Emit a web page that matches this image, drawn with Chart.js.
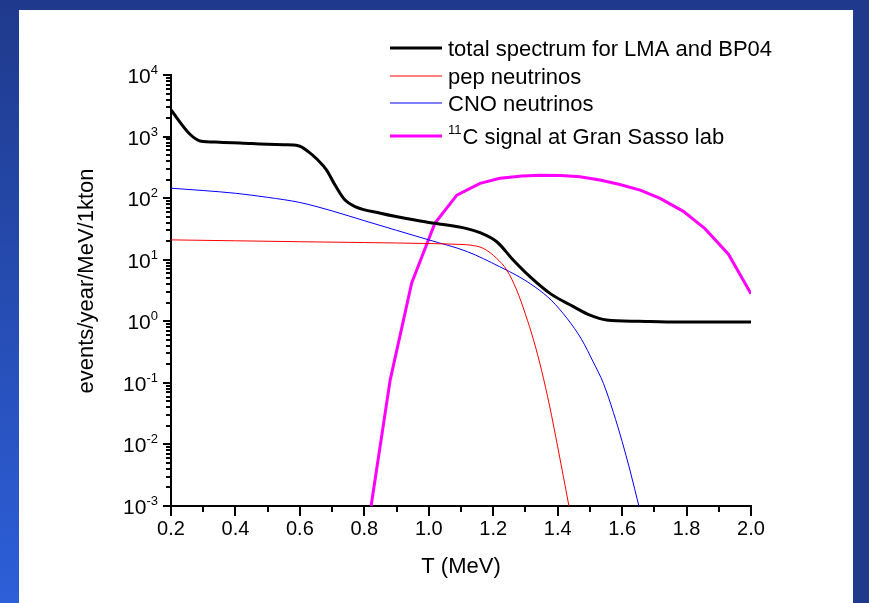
<!DOCTYPE html>
<html>
<head>
<meta charset="utf-8">
<title>Solar neutrino spectrum</title>
<script src="https://cdn.jsdelivr.net/npm/chart.js@4.4.0/dist/chart.umd.min.js"></script>
<style>
  html, body { margin: 0; padding: 0; background: #1f3a8c; overflow: hidden; }
  canvas { display: block; }
</style>
</head>
<body>
<canvas id="spectrum" width="869" height="603"></canvas>
<script>
// total spectrum (LMA + BP04)
const totalT = [0.2, 0.259, 0.29, 0.35, 0.45, 0.55, 0.595, 0.626, 0.655, 0.683, 0.71, 0.74, 0.771, 0.85, 0.957, 1.019, 1.118, 1.159, 1.211, 1.262, 1.314, 1.376, 1.449, 1.5, 1.552, 1.65, 1.78, 2.0];
const totalEvents = [2700, 1090, 850, 810, 770, 735, 710, 570, 420, 286, 160, 93, 73, 57, 44, 39, 32, 27.5, 19.6, 9.9, 5.3, 2.84, 1.73, 1.26, 1.05, 1.0, 0.97, 0.97];

// pep neutrinos
const pepT = [0.2, 0.4, 0.6, 0.8, 1.0, 1.1, 1.128, 1.169, 1.211, 1.242, 1.273, 1.3, 1.325, 1.35, 1.375, 1.4, 1.435];
const pepEvents = [21, 20.3, 19.6, 19, 18.3, 17.7, 17.3, 15.3, 10.5, 6.8, 3.2, 1.3, 0.5, 0.16, 0.042, 0.0092, 0.001];

// CNO neutrinos
const cnoT = [0.2, 0.3, 0.4, 0.5, 0.6, 0.7, 0.8, 0.9, 1.0, 1.12, 1.22, 1.28, 1.33, 1.38, 1.43, 1.475, 1.51, 1.542, 1.573, 1.6, 1.625, 1.652];
const cnoEvents = [145, 133, 120, 103, 85, 62, 43, 30, 21, 13.5, 7.7, 5.3, 3.6, 2.2, 1.1, 0.5, 0.22, 0.098, 0.033, 0.0112, 0.0037, 0.001];

// 11C background at Gran Sasso
const c11T = [0.821, 0.88, 0.947, 1.019, 1.087, 1.159, 1.221, 1.29, 1.345, 1.41, 1.469, 1.531, 1.59, 1.656, 1.718, 1.79, 1.857, 1.93, 2.0];
const c11Events = [0.001, 0.11, 4.2, 39, 112, 174, 210, 228, 236, 233, 223, 197, 168, 135, 99, 61, 32, 12.3, 2.8];

const xTickLabels = ['0.2', '0.4', '0.6', '0.8', '1.0', '1.2', '1.4', '1.6', '1.8', '2.0'];
const yExponents = [-3, -2, -1, 0, 1, 2, 3, 4];

const legendLabels = ['total spectrum for LMA and BP04', 'pep neutrinos', 'CNO neutrinos', 'C signal at Gran Sasso lab'];

const FONT = '"Liberation Sans", Arial, sans-serif';

function toPoints(xs, ys) {
  return xs.map((x, i) => ({ x: x, y: ys[i] }));
}

const decorations = {
  id: 'decorations',
  beforeDraw(chart) {
    const ctx = chart.ctx;
    const w = chart.width, h = chart.height;
    ctx.save();
    ctx.fillStyle = '#1f3a8c';
    ctx.fillRect(0, 0, w, h);
    const side = ctx.createLinearGradient(0, 0, 0, h);
    side.addColorStop(0, '#1f3a8c');
    side.addColorStop(1, '#2d5fd9');
    ctx.fillStyle = side;
    ctx.fillRect(0, 0, 19, h);
    ctx.fillStyle = '#ffffff';
    ctx.fillRect(19, 10, 834, h - 10);
    ctx.restore();
  },
  afterDraw(chart) {
    const ctx = chart.ctx;
    const xs = chart.scales.x;
    const ys = chart.scales.y;
    const area = chart.chartArea;
    ctx.save();
    ctx.strokeStyle = '#000';
    ctx.fillStyle = '#000';
    ctx.lineWidth = 2;

    // x ticks: major every 0.2, minor in between
    ctx.beginPath();
    xTickLabels.forEach((lbl, i) => {
      const v = parseFloat(lbl);
      const px = Math.round(xs.getPixelForValue(v));
      ctx.moveTo(px, area.bottom);
      ctx.lineTo(px, area.bottom + 10);
      if (i < xTickLabels.length - 1) {
        const mx = Math.round(xs.getPixelForValue(v + 0.1));
        ctx.moveTo(mx, area.bottom);
        ctx.lineTo(mx, area.bottom + 6);
      }
    });
    // y ticks: decades and 2..9 minors
    yExponents.forEach((e, i) => {
      const py = Math.round(ys.getPixelForValue(Math.pow(10, e)));
      ctx.moveTo(area.left, py);
      ctx.lineTo(area.left - 8, py);
      if (i < yExponents.length - 1) {
        for (let m = 2; m <= 9; m++) {
          const my = Math.round(ys.getPixelForValue(m * Math.pow(10, e)));
          ctx.moveTo(area.left, my);
          ctx.lineTo(area.left - 5, my);
        }
      }
    });
    ctx.stroke();

    // x tick labels
    ctx.font = '20px ' + FONT;
    ctx.textAlign = 'center';
    ctx.textBaseline = 'alphabetic';
    xTickLabels.forEach(lbl => {
      ctx.fillText(lbl, xs.getPixelForValue(parseFloat(lbl)), area.bottom + 29);
    });

    // y tick labels: 10 with superscript exponent
    yExponents.forEach(e => {
      const py = ys.getPixelForValue(Math.pow(10, e));
      const exp = String(e);
      ctx.font = '13px ' + FONT;
      const ew = ctx.measureText(exp).width;
      ctx.textAlign = 'left';
      const right = area.left - 13;
      ctx.fillText(exp, right - ew, py - 1);
      ctx.font = '21px ' + FONT;
      ctx.textAlign = 'right';
      ctx.fillText('10', right - ew, py + 8);
    });

    // axis titles
    ctx.font = '22px ' + FONT;
    ctx.textAlign = 'center';
    ctx.fillText('T (MeV)', (area.left + area.right) / 2, 573);
    ctx.save();
    ctx.translate(87, 281);
    ctx.rotate(-Math.PI / 2);
    ctx.textBaseline = 'middle';
    ctx.fillText('events/year/MeV/1kton', 0, 0);
    ctx.restore();

    // legend
    const rows = [48, 76, 103, 136];
    chart.data.datasets.forEach((ds, i) => {
      const y = rows[i];
      ctx.strokeStyle = ds.borderColor;
      ctx.lineWidth = ds.borderWidth;
      ctx.beginPath();
      ctx.moveTo(390, y);
      ctx.lineTo(442, y);
      ctx.stroke();
      ctx.fillStyle = '#000';
      ctx.textAlign = 'left';
      let tx = 448;
      if (i === 3) {
        ctx.font = '13px ' + FONT;
        ctx.fillText('11', tx, y - 2);
        tx += ctx.measureText('11').width + 1;
      }
      ctx.font = '22px ' + FONT;
      ctx.fillText(legendLabels[i], tx, y + 8);
    });
    ctx.restore();
  }
};

const ctx = document.getElementById('spectrum').getContext('2d');

new Chart(ctx, {
  type: 'line',
  data: {
    datasets: [
      {
        label: legendLabels[0],
        data: toPoints(totalT, totalEvents),
        borderColor: '#000000',
        borderWidth: 3,
        pointRadius: 0,
        cubicInterpolationMode: 'monotone',
        fill: false
      },
      {
        label: legendLabels[1],
        data: toPoints(pepT, pepEvents),
        borderColor: '#ff0000',
        borderWidth: 1,
        pointRadius: 0,
        cubicInterpolationMode: 'monotone',
        fill: false
      },
      {
        label: legendLabels[2],
        data: toPoints(cnoT, cnoEvents),
        borderColor: '#0000ff',
        borderWidth: 1,
        pointRadius: 0,
        cubicInterpolationMode: 'monotone',
        fill: false
      },
      {
        label: legendLabels[3],
        data: toPoints(c11T, c11Events),
        borderColor: '#ff00ff',
        borderWidth: 3,
        pointRadius: 0,
        tension: 0,
        fill: false
      }
    ]
  },
  options: {
    responsive: false,
    animation: false,
    layout: {
      padding: { left: 171, right: 118, top: 75, bottom: 97 }
    },
    scales: {
      x: {
        type: 'linear',
        min: 0.2,
        max: 2.0,
        grid: { display: false },
        ticks: { display: false },
        border: { display: true, color: '#000', width: 2 },
        afterFit(scale) { scale.height = 0; }
      },
      y: {
        type: 'logarithmic',
        min: 0.001,
        max: 10000,
        grid: { display: false },
        ticks: { display: false },
        border: { display: true, color: '#000', width: 2 },
        afterFit(scale) { scale.width = 0; }
      }
    },
    plugins: {
      legend: { display: false },
      tooltip: { enabled: false }
    }
  },
  plugins: [decorations]
});
</script>
</body>
</html>
